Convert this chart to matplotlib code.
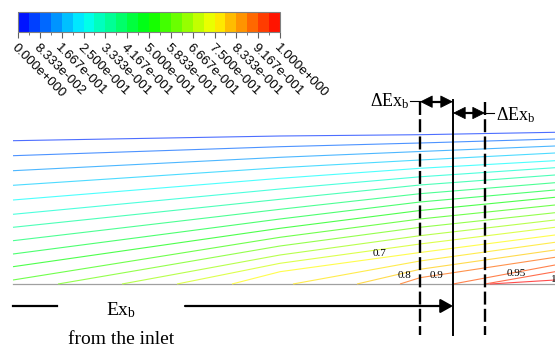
import numpy as np
import matplotlib
matplotlib.use("Agg")
import matplotlib.pyplot as plt
from matplotlib.colors import LinearSegmentedColormap, ListedColormap, BoundaryNorm, to_rgb
from matplotlib.cm import ScalarMappable
from matplotlib.patches import FancyArrowPatch

plt.rcParams['mathtext.fontset'] = 'custom'
plt.rcParams['mathtext.rm'] = 'Liberation Serif'
plt.rcParams['mathtext.it'] = 'Liberation Serif:italic'

# ---------------- data ----------------
# contour lines that enter through the inlet (left edge): height above wall
left_h = [143.3, 128.3, 113.3, 98.7, 84.0, 69.7, 56.7, 43.3, 30.0, 17.3, 4.0]
# contour lines that start on the wall: streamwise start position
wall_start_x = [45, 109, 164, 219, 280, 344, 387, 440, 472, 477]
# heights of every line at three downstream stations
station_x = [267, 407, 542]
h_st1 = [148.0, 137.3, 126.7, 116.3, 105.7, 95.0, 84.7, 74.7, 65.0, 55.7, 46.7,
         38.0, 29.0, 20.7, 12.3]
h_st2 = [149.3, 141.0, 132.5, 124.0, 115.7, 107.2, 99.0, 90.3, 82.0, 73.5, 65.0,
         56.7, 48.3, 40.0, 31.5, 23.0, 14.7, 6.3]
h_st3 = [151.7, 145.0, 138.0, 131.0, 123.3, 116.3, 109.0, 101.3, 94.0, 86.7, 79.0,
         71.3, 64.0, 56.7, 49.0, 41.7, 34.0, 26.7, 19.0, 12.3, 4.0]
line_levels = [0.05, 0.10, 0.15, 0.20, 0.25, 0.30, 0.35, 0.40, 0.45, 0.50, 0.55,
               0.60, 0.65, 0.70, 0.75, 0.775, 0.80, 0.90, 0.925, 0.95, 1.00]

contour_labels = ["0.7", "0.8", "0.9", "0.95", "1"]
label_x = [367, 392, 423, 503, 541]
label_h = [30, 8, 8, 10, 4]

cbar_ticks = [i / 12 for i in range(13)]
cbar_ticklabels = ["0.000e+000", "8.333e-002", "1.667e-001", "2.500e-001",
                   "3.333e-001", "4.167e-001", "5.000e-001", "5.833e-001",
                   "6.667e-001", "7.500e-001", "8.333e-001", "9.167e-001",
                   "1.000e+000"]
n_bands = 24

# ---------------- figure ----------------
fig = plt.figure(figsize=(5.55, 3.47), dpi=100)
ax = fig.add_axes([0, 0, 1, 1])
ax.set_xlim(-13, 542)
ax.set_ylim(-63, 284)
ax.axis('off')

rainbow = LinearSegmentedColormap.from_list(
    'smallrainbow', ['#0000ff', '#00ffff', '#00ff00', '#ffff00', '#ff0000'])

def pale(c, k=0.3):
    r, g, b = to_rgb(c)
    return (r + (1 - r) * k, g + (1 - g) * k, b + (1 - b) * k)

# wall
ax.plot([0, 542], [0, 0], color='#a0a0a0', lw=0.9, zorder=1)

stations = [h_st1, h_st2, h_st3]
for i, lev in enumerate(line_levels):
    if i < len(left_h):
        xs, ys = [0], [left_h[i]]
    else:
        xs, ys = [wall_start_x[i - len(left_h)]], [0]
    for sx, arr in zip(station_x, stations):
        if i < len(arr) and sx > xs[0]:
            xs.append(sx)
            ys.append(arr[i])
    ax.plot(xs, ys, color=pale(rainbow(lev)), lw=0.8,
            solid_capstyle='butt', solid_joinstyle='round', zorder=2)

for t, x, h in zip(contour_labels, label_x, label_h):
    ax.text(x, h, t, fontsize=8, family='Liberation Serif',
            ha='center', va='center', zorder=3)

# vertical marker lines
dash = (0, (5.5, 1.8))
ax.plot([407, 407], [182.3, -51], color='black', lw=1.7, linestyle=dash, zorder=4)
ax.plot([440, 440], [184, -51], color='black', lw=1.4, zorder=4)
ax.plot([472, 472], [182.3, -51], color='black', lw=1.7, linestyle=dash, zorder=4)

def dbl_arrow(x0, x1, y):
    a = FancyArrowPatch((x0, y), (x1, y),
                        arrowstyle='<|-|>,head_length=0.9,head_width=0.45',
                        mutation_scale=9, color='black', lw=0.6,
                        shrinkA=0, shrinkB=0, zorder=5)
    ax.add_patch(a)
    ax.plot([x0 + 8, x1 - 8], [y, y], color='black', lw=1.6, zorder=5)

dbl_arrow(407, 440, 182.3)
dbl_arrow(440, 472, 171)

# leaders and delta labels
ax.plot([397, 407], [183, 183], color='black', lw=0.8)
ax.plot([472, 481], [171, 171], color='black', lw=0.8)
ax.text(397, 182.5, r'$\Delta\mathrm{Ex}_\mathrm{b}$', fontsize=13,
        ha='right', va='center')
ax.text(483, 169, r'$\Delta\mathrm{Ex}_\mathrm{b}$', fontsize=13,
        ha='left', va='center')

# bottom arrow
ax.plot([0, 43.5], [-22, -22], color='black', lw=1.6)
a = FancyArrowPatch((172, -22), (440, -22),
                    arrowstyle='-|>,head_length=0.75,head_width=0.42',
                    mutation_scale=10, color='black', lw=1.6,
                    shrinkA=0, shrinkB=0, zorder=5)
ax.add_patch(a)
ax.text(108, -26, r'$\mathrm{Ex}_\mathrm{b}$', fontsize=14, ha='center', va='center')
ax.text(108, -56, 'from the inlet', fontsize=14, family='Liberation Serif',
        ha='center', va='center')

# colorbar
cax = fig.add_axes([18 / 555, 1 - 32 / 347, 262 / 555, 20 / 347])
bounds = np.linspace(0, 1, n_bands + 1)
centers = (bounds[:-1] + bounds[1:]) / 2
cmap_d = ListedColormap([rainbow(c) for c in centers])
norm = BoundaryNorm(bounds, cmap_d.N)
cb = fig.colorbar(ScalarMappable(norm=norm, cmap=cmap_d), cax=cax,
                  orientation='horizontal', ticks=cbar_ticks)
cb.outline.set_edgecolor('#808080')
cb.outline.set_linewidth(0.8)
cb.ax.set_xticks(cbar_ticks)
cb.ax.set_xticks([(cbar_ticks[k] + cbar_ticks[k + 1]) / 2 for k in range(12)], minor=True)
cb.ax.set_xticklabels(cbar_ticklabels, rotation=-45, ha='left',
                      rotation_mode='anchor', fontsize=9.5,
                      family='Liberation Sans')
cb.ax.tick_params(axis='x', which='major', length=4, width=0.8,
                  color='#606060', pad=3)
cb.ax.tick_params(axis='x', which='minor', length=2.5, width=0.6,
                  color='#606060')

fig.savefig('out.png', dpi=100)
